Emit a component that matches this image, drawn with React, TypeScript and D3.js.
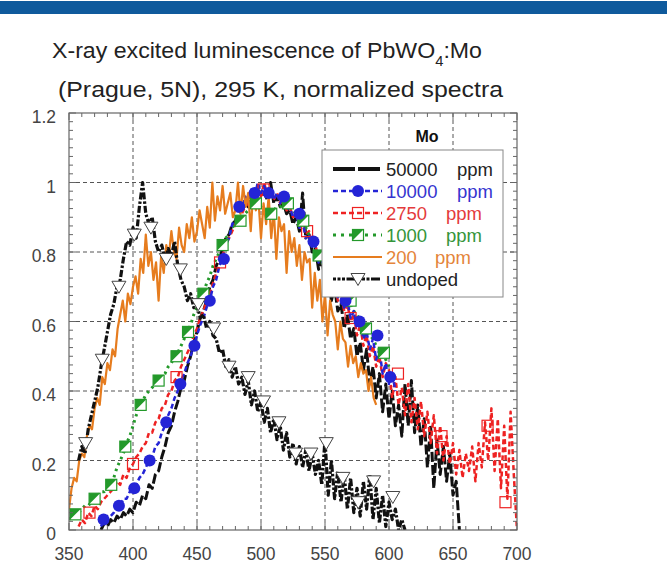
import React from 'react';
import * as d3 from 'd3';

// ---- axis ticks ----
const xTicks = [350, 400, 450, 500, 550, 600, 650, 700];
const yTicks = [0, 0.2, 0.4, 0.6, 0.8, 1, 1.2];
const yTickLabels = ['0', '0.2', '0.4', '0.6', '0.8', '1', '1.2'];

// ---- spectra (wavelength grid: start + i * step, nm) ----
const ppm200Start = 350, ppm200Step = 2;
const ppm200 = [
  0.06, 0.12, 0.15, 0.14, 0.20, 0.22, 0.21, 0.27, 0.30, 0.29, 0.35, 0.38, 0.36, 0.44, 0.42, 0.48,
  0.46, 0.52, 0.50, 0.58, 0.62, 0.66, 0.60, 0.68, 0.65, 0.70, 0.73, 0.68, 0.78, 0.74, 0.85, 0.76,
  0.80, 0.72, 0.77, 0.66, 0.79, 0.74, 0.82, 0.79, 0.86, 0.80, 0.78, 0.87, 0.82, 0.80, 0.88, 0.84,
  0.90, 0.83, 0.86, 0.92, 0.88, 0.84, 0.93, 0.87, 1.00, 0.89, 0.96, 0.92, 0.99, 0.91, 0.94, 0.97,
  0.90, 0.92, 1.00, 0.91, 0.99, 0.93, 0.97, 0.86, 0.98, 0.92, 0.95, 0.84, 0.94, 0.88, 0.96, 0.84,
  0.92, 0.78, 0.90, 0.86, 0.88, 0.74, 0.86, 0.80, 0.84, 0.76, 0.82, 0.72, 0.80, 0.77, 0.78, 0.64,
  0.74, 0.66, 0.72, 0.60, 0.68, 0.56, 0.66, 0.62, 0.60, 0.52, 0.60, 0.55, 0.54, 0.47, 0.53, 0.48,
  0.50, 0.44, 0.48, 0.45, 0.46, 0.40, 0.44, 0.38, 0.36,
];

const ppm50000Start = 375, ppm50000Step = 2.5;
const ppm50000 = [
  0.00, 0.02, 0.01, 0.03, 0.02, 0.04, 0.03, 0.05, 0.04, 0.06, 0.05, 0.08, 0.07, 0.10, 0.09, 0.13,
  0.12, 0.16, 0.17, 0.21, 0.24, 0.28, 0.30, 0.34, 0.37, 0.41, 0.43, 0.47, 0.50, 0.54, 0.57, 0.61,
  0.63, 0.66, 0.70, 0.72, 0.76, 0.78, 0.81, 0.84, 0.85, 0.88, 0.89, 0.91, 0.92, 0.94, 0.93, 0.96,
  0.95, 0.98, 0.96, 0.97, 0.95, 1.00, 0.94, 0.96, 0.93, 0.94, 0.91, 0.92, 0.88, 0.90, 0.86, 0.97,
  0.84, 0.85, 0.80, 0.81, 0.75, 0.78, 0.72, 0.73, 0.66, 0.70, 0.63, 0.65, 0.58, 0.62, 0.55, 0.58,
  0.50, 0.54, 0.46, 0.52, 0.42, 0.47, 0.38, 0.45, 0.34, 0.42, 0.32, 0.40, 0.30, 0.36, 0.27, 0.42,
  0.30, 0.43, 0.28, 0.36, 0.24, 0.32, 0.18, 0.30, 0.12, 0.26, 0.16, 0.24, 0.14, 0.22, 0.10, 0.14,
  0.00,
];

const ppm10000Start = 375, ppm10000Step = 2.5;
const ppm10000 = [
  0.01, 0.03, 0.04, 0.04, 0.05, 0.07, 0.07, 0.09, 0.09, 0.11, 0.12, 0.13, 0.15, 0.16, 0.18, 0.20,
  0.21, 0.24, 0.25, 0.28, 0.30, 0.33, 0.35, 0.38, 0.40, 0.43, 0.45, 0.48, 0.50, 0.53, 0.56, 0.59,
  0.61, 0.64, 0.66, 0.70, 0.72, 0.76, 0.78, 0.82, 0.84, 0.88, 0.89, 0.93, 0.92, 0.96, 0.95, 0.98,
  0.96, 1.00, 0.97, 0.99, 0.96, 0.98, 0.95, 0.97, 0.94, 0.96, 0.92, 0.93, 0.90, 0.91, 0.87, 0.89,
  0.84, 0.85, 0.81, 0.82, 0.77, 0.78, 0.74, 0.75, 0.70, 0.71, 0.67, 0.68, 0.64, 0.66, 0.61, 0.63,
  0.58, 0.60, 0.55, 0.57, 0.52, 0.55, 0.49, 0.52, 0.45, 0.48, 0.42, 0.45, 0.40,
];

const ppm2750Start = 357.5, ppm2750Step = 2.5;
const ppm2750 = [
  0.01, 0.03, 0.02, 0.05, 0.04, 0.07, 0.06, 0.08, 0.09, 0.10, 0.11, 0.12, 0.14, 0.13, 0.16, 0.15,
  0.18, 0.19, 0.21, 0.22, 0.24, 0.25, 0.28, 0.28, 0.31, 0.32, 0.35, 0.36, 0.39, 0.40, 0.43, 0.44,
  0.47, 0.49, 0.51, 0.53, 0.56, 0.58, 0.61, 0.63, 0.66, 0.68, 0.71, 0.74, 0.76, 0.79, 0.82, 0.84,
  0.86, 0.88, 0.90, 0.91, 0.93, 0.94, 0.97, 0.95, 0.98, 0.96, 1.00, 0.96, 0.98, 0.95, 0.97, 0.94,
  0.95, 0.92, 0.93, 0.90, 0.91, 0.88, 0.88, 0.85, 0.86, 0.82, 0.82, 0.78, 0.79, 0.74, 0.76, 0.70,
  0.72, 0.66, 0.68, 0.63, 0.65, 0.60, 0.62, 0.56, 0.59, 0.53, 0.56, 0.50, 0.53, 0.47, 0.50, 0.44,
  0.48, 0.46, 0.38, 0.44, 0.36, 0.41, 0.33, 0.42, 0.31, 0.38, 0.29, 0.37, 0.27, 0.34, 0.25, 0.33,
  0.22, 0.30, 0.20, 0.27, 0.19, 0.25, 0.16, 0.23, 0.15, 0.22, 0.17, 0.24, 0.14, 0.25, 0.18, 0.31,
  0.20, 0.35, 0.17, 0.32, 0.12, 0.30, 0.09, 0.34, 0.16, 0.00,
];

const ppm1000Start = 350, ppm1000Step = 2.5;
const ppm1000 = [
  0.03, 0.04, 0.05, 0.05, 0.06, 0.07, 0.07, 0.08, 0.09, 0.10, 0.11, 0.11, 0.12, 0.13, 0.15, 0.18,
  0.20, 0.22, 0.25, 0.27, 0.30, 0.33, 0.35, 0.37, 0.39, 0.40, 0.41, 0.42, 0.43, 0.44, 0.45, 0.47,
  0.48, 0.50, 0.51, 0.53, 0.55, 0.57, 0.59, 0.62, 0.64, 0.66, 0.68, 0.71, 0.73, 0.76, 0.78, 0.80,
  0.82, 0.84, 0.85, 0.87, 0.88, 0.89, 0.90, 0.91, 0.92, 0.93, 0.94, 0.93, 0.93, 0.92, 0.92, 0.91,
  0.92, 0.93, 0.93, 0.94, 0.93, 0.93, 0.92, 0.91, 0.90, 0.88, 0.87, 0.85, 0.83, 0.81, 0.79, 0.77,
  0.76, 0.74, 0.73, 0.72, 0.70, 0.69, 0.68, 0.66, 0.65, 0.63, 0.62, 0.60, 0.59, 0.57, 0.56, 0.55,
  0.53, 0.52, 0.51, 0.49, 0.47,
];

const undopedStart = 357.5, undopedStep = 2.5;
const undoped = [
  0.20, 0.24, 0.22, 0.29, 0.33, 0.37, 0.41, 0.47, 0.52, 0.57, 0.62, 0.65, 0.70, 0.72, 0.78, 0.83,
  0.82, 0.87, 0.84, 0.93, 1.00, 0.91, 0.88, 0.90, 0.83, 0.80, 0.82, 0.78, 0.81, 0.79, 0.83, 0.76,
  0.72, 0.70, 0.66, 0.68, 0.64, 0.65, 0.61, 0.62, 0.58, 0.60, 0.56, 0.55, 0.51, 0.52, 0.47, 0.49,
  0.44, 0.47, 0.42, 0.44, 0.39, 0.43, 0.36, 0.40, 0.34, 0.37, 0.31, 0.35, 0.28, 0.32, 0.26, 0.30,
  0.23, 0.28, 0.21, 0.25, 0.19, 0.24, 0.18, 0.23, 0.17, 0.22, 0.16, 0.20, 0.13, 0.26, 0.10, 0.20,
  0.09, 0.17, 0.08, 0.16, 0.06, 0.15, 0.05, 0.12, 0.04, 0.14, 0.06, 0.16, 0.03, 0.12, 0.02, 0.10,
  0.01, 0.08, 0.03, 0.06, 0.00, 0.03, 0.00,
];

// ---- symbol positions [nm, intensity] ----
const ppm10000Marks = [
  [377, 0.03], [389, 0.07], [401, 0.12], [413, 0.2], [426, 0.31], [437, 0.42], [448, 0.53],
  [460, 0.66], [471, 0.78], [483, 0.93], [495, 0.97], [506, 0.97], [518, 0.96], [530, 0.91],
  [541, 0.83], [553, 0.74], [566, 0.66], [577, 0.6], [591, 0.56], [601, 0.44],
];
const ppm2750Marks = [
  [366, 0.05], [400, 0.19], [434, 0.44], [468, 0.77], [502, 0.98], [536, 0.86], [570, 0.61],
  [607, 0.45], [641, 0.27], [677, 0.3], [691, 0.08],
];
const ppm1000Marks = [
  [355, 0.045], [370, 0.09], [383, 0.13], [394, 0.24], [406, 0.36], [420, 0.43], [434, 0.5],
  [443, 0.57], [455, 0.68], [470, 0.82], [484, 0.89], [496, 0.94], [508, 0.91], [521, 0.94],
  [533, 0.89], [545, 0.79], [558, 0.72], [570, 0.66], [582, 0.58], [596, 0.51],
];
const undopedMarks = [
  [363, 0.25], [376, 0.49], [389, 0.7], [401, 0.85], [414, 0.87], [426, 0.78], [437, 0.75],
  [451, 0.65], [463, 0.58], [475, 0.47], [490, 0.44], [502, 0.37], [514, 0.31], [527, 0.22],
  [539, 0.22], [551, 0.25], [564, 0.15], [576, 0.08], [588, 0.14], [603, 0.095],
];

// ---- legend ----
const legendLabels = ['50000', '10000', '2750', '1000', '200', 'undoped'];
const legendUnits = ['ppm', 'ppm', 'ppm', 'ppm', 'ppm', ''];

const COLORS = {
  black: '#111111',
  blue: '#2424d6',
  red: '#ee2222',
  green: '#23992a',
  orange: '#e67c1e',
};

const toPoints = (vals: number[], start: number, step: number) =>
  vals.map((v, i) => [start + i * step, v] as [number, number]);

const FONT = '"Liberation Sans", Arial, Helvetica, sans-serif';

type MarkKind = 'circle' | 'square' | 'half' | 'tri' | 'none';

function Marker({ kind, cx, cy, color }: { kind: MarkKind; cx: number; cy: number; color: string }) {
  const h = 5.5;
  if (kind === 'circle') return <circle cx={cx} cy={cy} r={6} fill={color} />;
  if (kind === 'square')
    return <rect x={cx - h} y={cy - h} width={2 * h} height={2 * h} fill="none" stroke={color} strokeWidth={1.2} />;
  if (kind === 'half')
    return (
      <g>
        <rect x={cx - h} y={cy - h} width={2 * h} height={2 * h} fill="#fff" stroke={color} strokeWidth={1.2} />
        <path d={`M${cx - h},${cy - h}L${cx + h},${cy - h}L${cx - h},${cy + h}Z`} fill={color} />
      </g>
    );
  if (kind === 'tri')
    return (
      <path
        d={`M${cx - 7},${cy - 5.5}L${cx + 7},${cy - 5.5}L${cx},${cy + 6.5}Z`}
        fill="#fff"
        stroke="#444"
        strokeWidth={1}
      />
    );
  return null;
}

export default function App() {
  const x = d3.scaleLinear().domain([350, 700]).range([69, 517]);
  const y = d3.scaleLinear().domain([0, 1.2]).range([530, 113]);
  const line = d3
    .line<[number, number]>()
    .x((d) => x(d[0]))
    .y((d) => y(d[1]));

  const [x0, x1] = x.range();
  const [y0, y1] = y.range();

  const series = [
    { key: '50000', pts: toPoints(ppm50000, ppm50000Start, ppm50000Step), color: COLORS.black, width: 3, dash: '10 3', marks: [] as number[][], kind: 'none' as MarkKind },
    { key: '2750', pts: toPoints(ppm2750, ppm2750Start, ppm2750Step), color: COLORS.red, width: 2.5, dash: '5 3', marks: ppm2750Marks, kind: 'square' as MarkKind },
    { key: '1000', pts: toPoints(ppm1000, ppm1000Start, ppm1000Step), color: COLORS.green, width: 3, dash: '2.5 4', marks: ppm1000Marks, kind: 'half' as MarkKind },
    { key: '10000', pts: toPoints(ppm10000, ppm10000Start, ppm10000Step), color: COLORS.blue, width: 2.5, dash: '5 3', marks: ppm10000Marks, kind: 'circle' as MarkKind },
    { key: '200', pts: toPoints(ppm200, ppm200Start, ppm200Step), color: COLORS.orange, width: 2.2, dash: 'none', marks: [] as number[][], kind: 'none' as MarkKind },
    { key: 'undoped', pts: toPoints(undoped, undopedStart, undopedStep), color: COLORS.black, width: 3.2, dash: '7 2 2.5 2', marks: undopedMarks, kind: 'tri' as MarkKind },
  ];

  const xMinor = d3.range(350, 701, 10);
  const yMinor = d3.range(0, 1.2001, 0.025);
  const xGrid = xTicks.slice(1, -1);
  const yGrid = yTicks.slice(1, -1);

  // legend geometry
  const lg = { left: 322, top: 150, right: 503, bottom: 297 };
  const rowY = (i: number) => 169 + i * 22;
  const legendStyles = [
    { color: COLORS.black, width: 4, dash: '22 3', kind: 'none' as MarkKind, text: '#222' },
    { color: COLORS.blue, width: 2.5, dash: '5 3', kind: 'circle' as MarkKind, text: '#3535cf' },
    { color: COLORS.red, width: 2.5, dash: '5 3', kind: 'square' as MarkKind, text: '#e43b3b' },
    { color: COLORS.green, width: 3, dash: '3 5', kind: 'half' as MarkKind, text: '#35953a' },
    { color: COLORS.orange, width: 2, dash: 'none', kind: 'none' as MarkKind, text: '#e4853a' },
    { color: COLORS.black, width: 3, dash: '3 1.5 3 1.5 3 1.5 9 2', kind: 'tri' as MarkKind, text: '#222' },
  ];
  const unitX = [457, 457, 446, 446, 435, 0];

  return (
    <svg
      width={667}
      height={567}
      style={{ position: 'absolute', left: 0, top: 0, background: '#fff' }}
      fontFamily={FONT}
    >
      <rect x={0} y={0} width={667} height={567} fill="#fff" />
      <rect x={0} y={1} width={667} height={13} fill="#0f5a9c" />

      {/* title */}
      <text x={52} y={58} fontSize={22} fill="#222" textLength={430} lengthAdjust="spacingAndGlyphs">
        X-ray excited luminescence of PbWO
        <tspan fontSize={14} dy={8}>4</tspan>
        <tspan dy={-8}>:Mo</tspan>
      </text>
      <text x={58} y={97} fontSize={22} fill="#222" textLength={445} lengthAdjust="spacingAndGlyphs">
        (Prague, 5N), 295 K, normalized spectra
      </text>

      <defs>
        <clipPath id="plotClip">
          <rect x={x0} y={y1} width={x1 - x0} height={y0 - y1} />
        </clipPath>
      </defs>

      {/* grid */}
      <g stroke="#555" strokeWidth={1} strokeDasharray="4 3">
        {xGrid.map((t) => (
          <line key={'gx' + t} x1={x(t)} x2={x(t)} y1={y1} y2={y0} />
        ))}
        {yGrid.map((t) => (
          <line key={'gy' + t} x1={x0} x2={x1} y1={y(t)} y2={y(t)} />
        ))}
      </g>

      {/* data */}
      <g clipPath="url(#plotClip)">
        {series.map((s) => (
          <path
            key={'l' + s.key}
            d={line(s.pts) || ''}
            fill="none"
            stroke={s.color}
            strokeWidth={s.width}
            strokeDasharray={s.dash}
            strokeLinejoin="round"
          />
        ))}
        {series.map((s) =>
          s.marks.map((m, i) => (
            <Marker key={s.key + 'm' + i} kind={s.kind} cx={x(m[0])} cy={y(m[1])} color={s.color} />
          ))
        )}
      </g>

      {/* frame and ticks */}
      <rect x={x0} y={y1} width={x1 - x0} height={y0 - y1} fill="none" stroke="#666" strokeWidth={1.2} />
      <g stroke="#666" strokeWidth={1}>
        {xMinor.map((t) => {
          const len = t % 50 === 0 ? 7 : 4;
          return (
            <g key={'tx' + t}>
              <line x1={x(t)} x2={x(t)} y1={y0} y2={y0 - len} />
              <line x1={x(t)} x2={x(t)} y1={y1} y2={y1 + len} />
            </g>
          );
        })}
        {yMinor.map((t, i) => {
          const len = i % 8 === 0 ? 7 : 4;
          return (
            <g key={'ty' + i}>
              <line x1={x0} x2={x0 + len} y1={y(t)} y2={y(t)} />
              <line x1={x1} x2={x1 - len} y1={y(t)} y2={y(t)} />
            </g>
          );
        })}
      </g>

      {/* tick labels */}
      <g fontSize={17.5} fill="#444">
        {xTicks.map((t) => (
          <text key={'lx' + t} x={x(t)} y={560} textAnchor="middle">
            {t}
          </text>
        ))}
        {yTicks.map((t, i) => (
          <text key={'ly' + t} x={56} y={y(t) + 10} textAnchor="end">
            {yTickLabels[i]}
          </text>
        ))}
      </g>

      {/* legend */}
      <text x={427} y={142} fontSize={16} fontWeight="bold" textAnchor="middle" fill="#111">
        Mo
      </text>
      <rect x={lg.left} y={lg.top} width={lg.right - lg.left} height={lg.bottom - lg.top} fill="#fff" stroke="#888" strokeWidth={1} />
      {legendLabels.map((lab, i) => {
        const st = legendStyles[i];
        const cy = rowY(i);
        return (
          <g key={'leg' + i}>
            <line x1={333} x2={382} y1={cy} y2={cy} stroke={st.color} strokeWidth={st.width} strokeDasharray={st.dash} />
            <Marker kind={st.kind} cx={358} cy={cy} color={st.color} />
            <text x={386} y={cy + 6.5} fontSize={18.5} fill={st.text}>
              {lab}
            </text>
            {legendUnits[i] && (
              <text x={unitX[i]} y={cy + 6.5} fontSize={18.5} fill={st.text}>
                {legendUnits[i]}
              </text>
            )}
          </g>
        );
      })}
    </svg>
  );
}
